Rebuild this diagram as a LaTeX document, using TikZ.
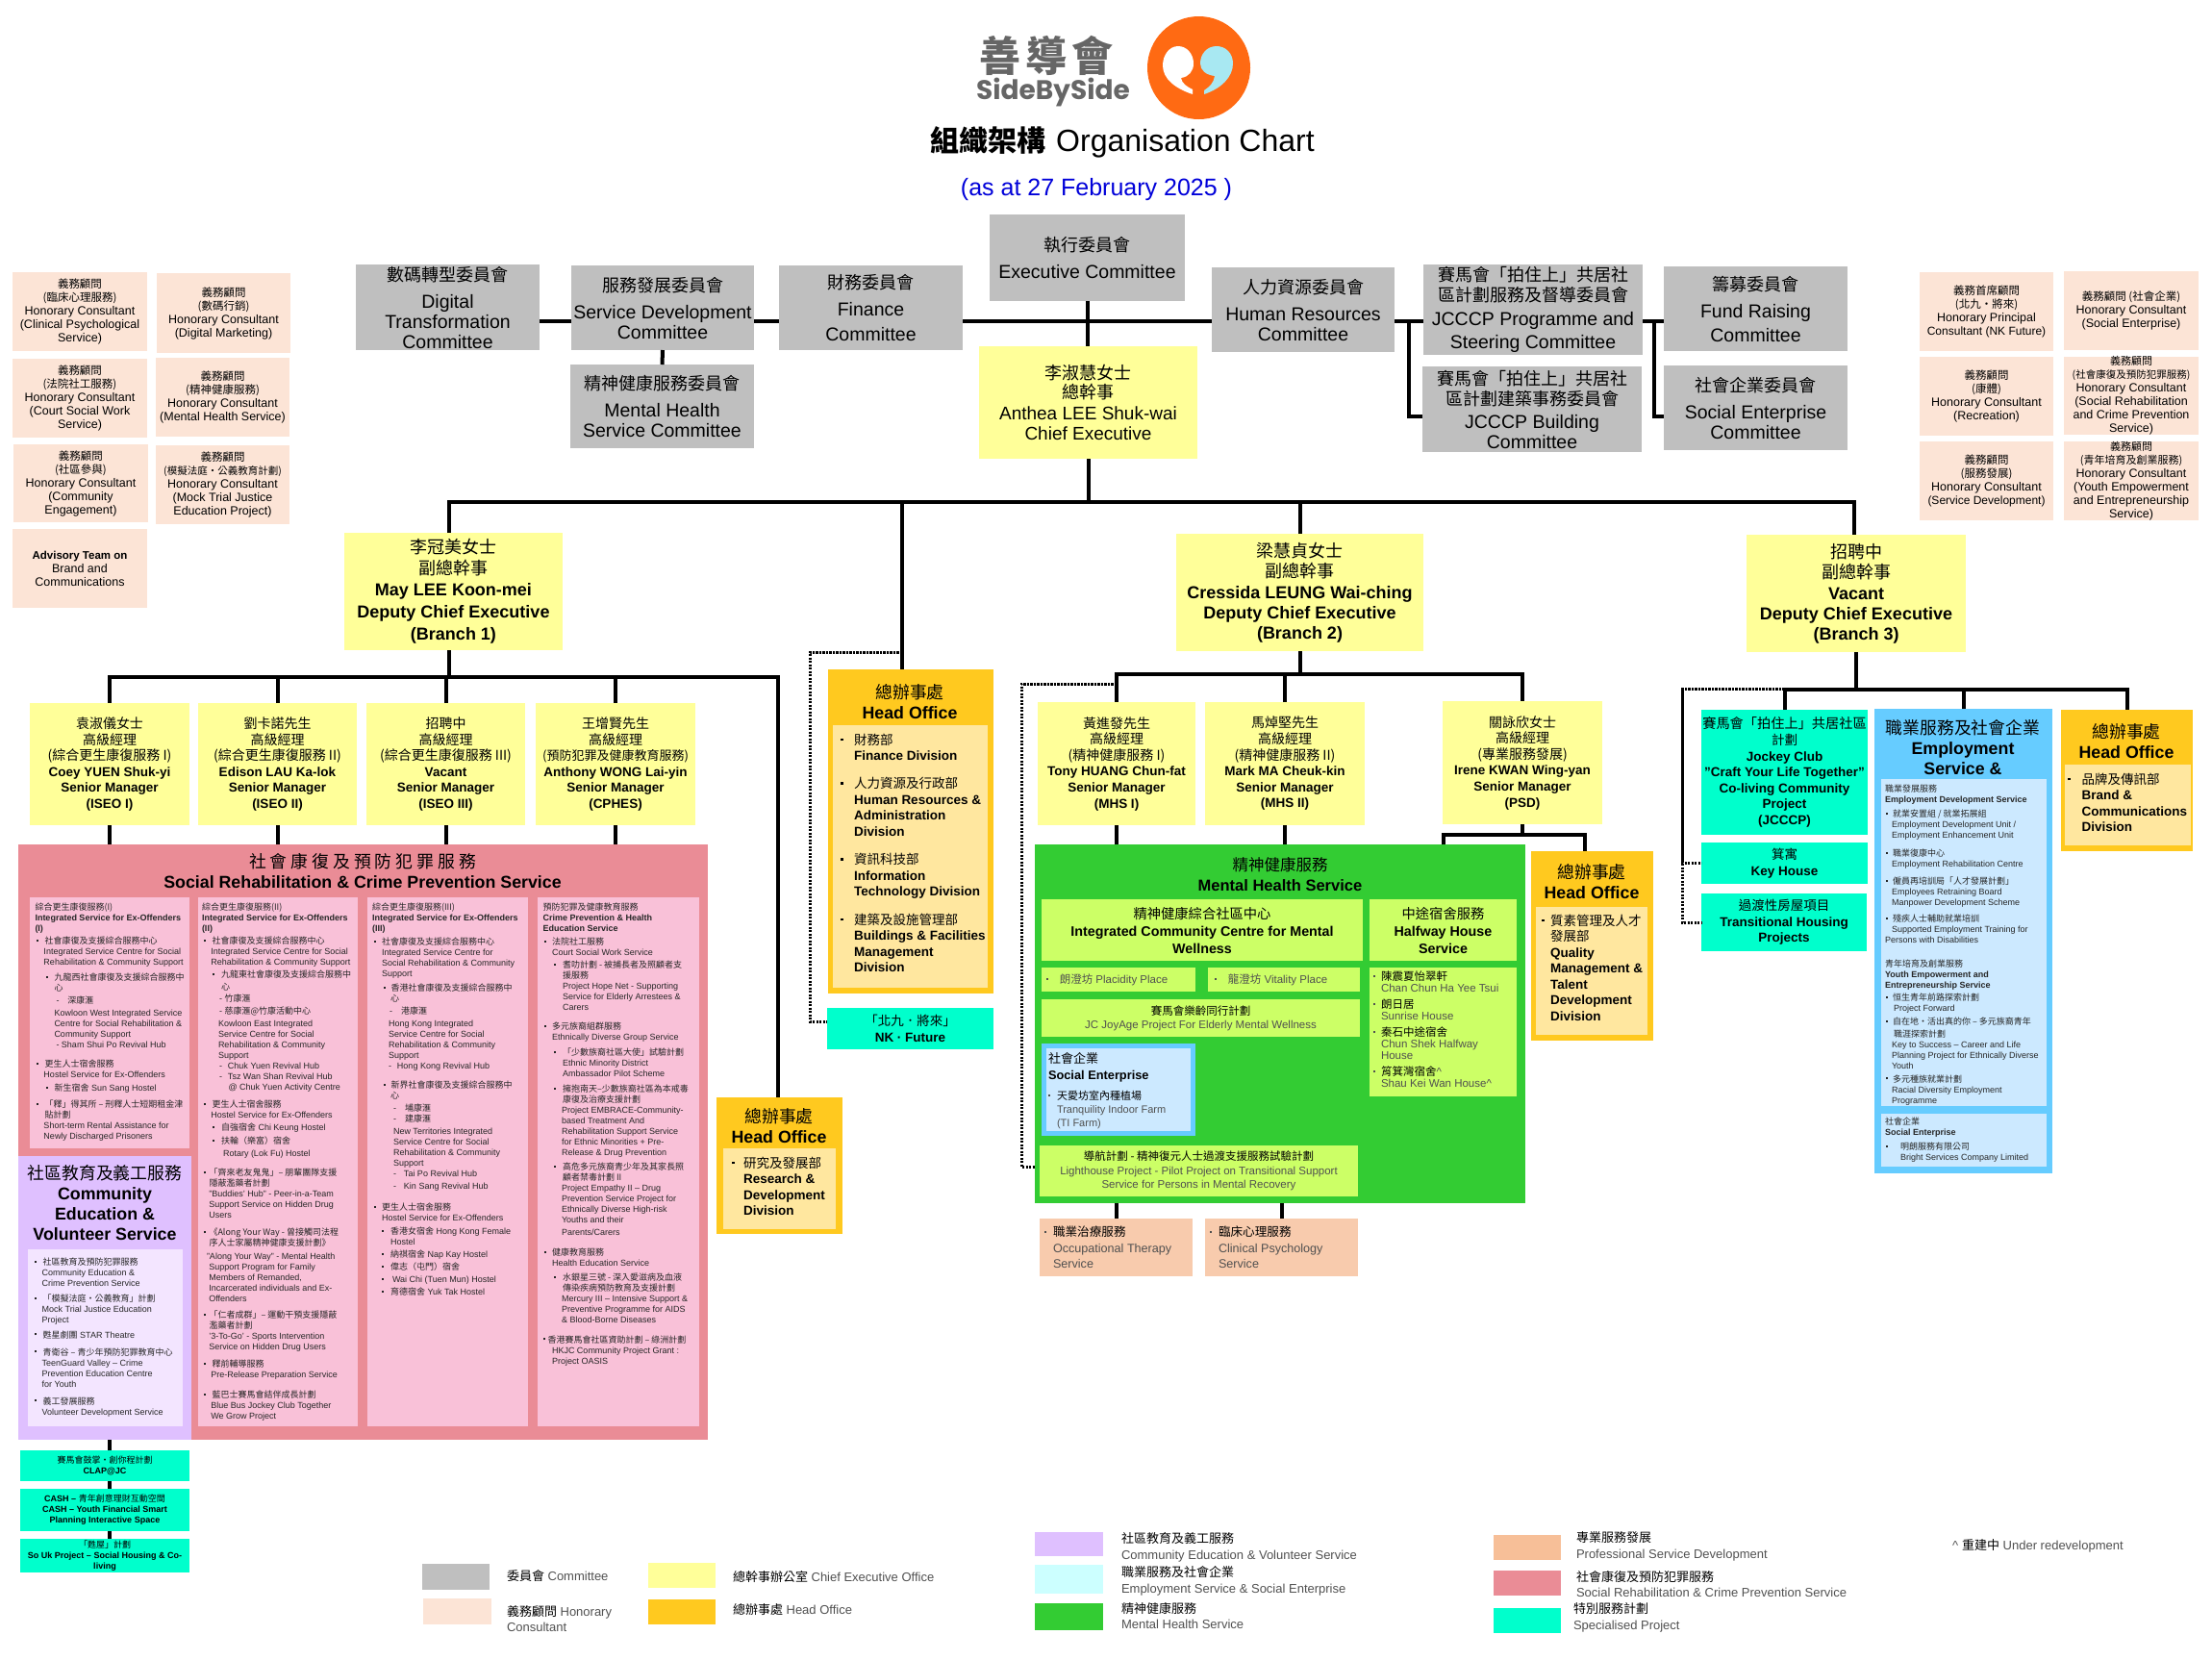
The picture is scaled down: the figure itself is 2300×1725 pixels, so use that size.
\documentclass[tikz,border=0pt]{standalone}
\usepackage{fontspec}
\setmainfont{Liberation Sans}
\newfontfamily\zhfont{Noto Sans CJK TC}
\newfontfamily\logofont{Poppins}
\definecolor{cmtegray}{HTML}{BFBFBF}
\definecolor{honpink}{HTML}{FCE4D6}
\definecolor{ceoyellow}{HTML}{FFFF99}
\definecolor{hoorange}{HTML}{FFC91F}
\definecolor{hopale}{HTML}{FFE79F}
\definecolor{redmain}{HTML}{EA8C96}
\definecolor{redpale}{HTML}{F9C1D8}
\definecolor{purmain}{HTML}{DFC0FF}
\definecolor{purpale}{HTML}{F3E5FF}
\definecolor{greenmain}{HTML}{33CC33}
\definecolor{greenpale}{HTML}{CCFF66}
\definecolor{bluemain}{HTML}{66CCFF}
\definecolor{bluepale}{HTML}{CCE9FF}
\definecolor{mint}{HTML}{00FFCC}
\definecolor{peach}{HTML}{F8CBAD}
\definecolor{legpeach}{HTML}{F7BF98}
\definecolor{legblue}{HTML}{CCFFFF}
\definecolor{logoorange}{HTML}{FF6A13}
\definecolor{logocyan}{HTML}{A8E8F2}
\definecolor{logogray}{HTML}{666666}
\definecolor{greytext}{HTML}{505050}
\newcommand{\zh}[1]{{\zhfont\mdseries #1}}
\newcommand{\fs}[2]{\fontsize{#1}{#2}\selectfont}
\newcommand{\ind}[1]{\hspace*{#1pt}}
\newcommand{\bl}[2]{\hspace*{#1pt}\makebox[#2pt][l]{\rule[2.6pt]{2pt}{2pt}}}
\newcommand{\bx}[7]{\node[#1,minimum width={(#5-#3)*1pt},minimum height={(#6-#4)*1pt}] (#2) at ({(#3+#5)/2},{(#4+#6)/2}) {#7};}
\newcommand{\tx}[5]{\node[#1] (#2) at (#3,#4) {#5};}
\setlength{\lineskiplimit}{-30pt}
\tikzset{
  plain/.style={inner sep=0,outer sep=0,align=center},
  cmtebox/.style={plain,fill=cmtegray,font=\fs{19.5}{21}},
  honbox/.style={plain,fill=honpink,font=\fs{12.5}{14}},
  ceobox/.style={plain,fill=ceoyellow,font=\fs{19}{22}},
  branchbox/.style={plain,fill=ceoyellow,font=\bfseries\fs{18}{22}},
  seniorbox/.style={plain,fill=ceoyellow,font=\bfseries\fs{13.5}{16.6}},
  hobox/.style={plain,fill=hoorange},
  hoin/.style={plain,fill=hopale},
  mintbox/.style={plain,fill=mint,font=\bfseries\fs{13.5}{16.6}},
  minismall/.style={plain,fill=mint,font=\bfseries\fs{9}{11}},
  greenin/.style={plain,fill=greenpale,text=greytext,font=\fs{11.5}{12.4}},
  peachbox/.style={plain,fill=peach},
  ptxt/.style={inner sep=0,outer sep=0,anchor=north west,align=left,font=\fs{9}{11},text=black!85},
  hotxt/.style={ptxt,font=\bfseries\fs{13.5}{16.5},text=black},
  title/.style={inner sep=0,outer sep=0,align=center,font=\bfseries\fs{17.8}{21}},
  legtxt/.style={inner sep=0,outer sep=0,anchor=west,align=left,font=\fs{13}{16.5},text=greytext},
  bus/.style={line width=4pt,black},
  dotline/.style={line width=3pt,black,dash pattern=on 2.2pt off 1.3pt}
}
\begin{document}
\begin{tikzpicture}[x=1pt,y=-1pt]
\useasboundingbox (0,0) rectangle (2300,1725);

\fill[logoorange] (1246.5,70.5) circle (53.5);
\fill[white] (1240,98) .. controls (1222,92) and (1209,82) .. (1209,68) .. controls (1209,57) and (1216,48) .. (1225,48) .. controls (1234,48) and (1241,56) .. (1241,66) .. controls (1241,74) and (1236,80) .. (1228,81) .. controls (1229,87) and (1234,90) .. (1240,93) -- cycle;
\fill[logocyan] (1252,98) .. controls (1270,92) and (1282,80) .. (1282,66) .. controls (1282,55) and (1274,48) .. (1265,48) .. controls (1255,48) and (1248,56) .. (1248,66) .. controls (1248,73) and (1254,78) .. (1263,79) .. controls (1262,86) and (1258,90) .. (1252,94) -- cycle;
\node[inner sep=0,text=logogray,font=\fs{43}{46}\zhfont\bfseries] (logozh) at (1088,58) {善\hspace{5pt}導\hspace{5pt}會};
\node[inner sep=0,text=logogray,font=\bfseries\fs{28}{30}\logofont] (logoen) at (1095,96) {SideBySide};
\node[inner sep=0,font=\fs{32}{36}] (maintitle) at (1167,148) {{\zhfont\bfseries\fontsize{30}{36}\selectfont 組織架構}\hspace{11pt}Organisation Chart};
\node[inner sep=0,text=blue!85!black,font=\fs{25}{28}] (asat) at (1140,197.5) {(as at 27 February 2025 )};

\bx{honbox}{honA}{13}{283}{153}{365}{\zh{\fs{11.5}{14}義務顧問}\\\zh{\fs{11.5}{14}(臨床心理服務)}\\Honorary Consultant\\(Clinical Psychological\\Service)}
\bx{honbox}{honB}{163}{284}{302}{367}{\zh{\fs{11.5}{14}義務顧問}\\\zh{\fs{11.5}{14}(數碼行銷)}\\Honorary Consultant\\(Digital Marketing)}
\bx{honbox}{honC}{13}{373}{153}{455}{\zh{\fs{11.5}{14}義務顧問}\\\zh{\fs{11.5}{14}(法院社工服務)}\\Honorary Consultant\\(Court Social Work\\Service)}
\bx{honbox}{honD}{162}{372}{301}{454}{\zh{\fs{11.5}{14}義務顧問}\\\zh{\fs{11.5}{14}(精神健康服務)}\\Honorary Consultant\\(Mental Health Service)}
\bx{honbox}{honE}{14}{462}{154}{543}{\zh{\fs{11.5}{14}義務顧問}\\\zh{\fs{11.5}{14}(社區參與)}\\Honorary Consultant\\(Community\\Engagement)}
\bx{honbox}{honF}{162}{463}{301}{545}{\zh{\fs{11.5}{14}義務顧問}\\\zh{\fs{10.5}{14}(模擬法庭・公義教育計劃)}\\Honorary Consultant\\(Mock Trial Justice\\Education Project)}
\bx{honbox}{honG}{13}{550}{153}{632}{\bfseries\fs{11.5}{13.5}Advisory Team on\\Brand and\\Communications}

\bx{honbox}{honH}{1996}{283}{2135}{365}{\zh{\fs{11.5}{14}義務首席顧問}\\\zh{\fs{11.5}{14}(北九・將來)}\\Honorary Principal\\\fs{12}{14}Consultant (NK Future)}
\bx{honbox}{honI}{2146}{282}{2286}{364}{\zh{\fs{11.5}{14}義務顧問 (社會企業)}\\Honorary Consultant\\(Social Enterprise)}
\bx{honbox}{honJ}{1996}{371}{2135}{453}{\zh{\fs{11.5}{14}義務顧問}\\\zh{\fs{11.5}{14}(康體)}\\Honorary Consultant\\(Recreation)}
\bx{honbox}{honK}{2146}{371}{2286}{452}{\zh{\fs{11}{13.4}義務顧問}\\\zh{\fs{10.5}{13.4}(社會康復及預防犯罪服務)}\\\fs{12.5}{13.4}Honorary Consultant\\\fs{12.5}{13.4}(Social Rehabilitation\\\fs{12.5}{13.4}and Crime Prevention\\\fs{12.5}{13.4}Service)}
\bx{honbox}{honL}{1996}{459}{2135}{541}{\zh{\fs{11.5}{14}義務顧問}\\\zh{\fs{11.5}{14}(服務發展)}\\Honorary Consultant\\\fs{12}{14}(Service Development)}
\bx{honbox}{honM}{2146}{459}{2286}{541}{\zh{\fs{11}{13.4}義務顧問}\\\zh{\fs{11}{13.4}(青年培育及創業服務)}\\\fs{12.5}{13.4}Honorary Consultant\\\fs{12.5}{13.4}(Youth Empowerment\\\fs{12.5}{13.4}and Entrepreneurship\\\fs{12.5}{13.4}Service)}

\bx{cmtebox}{digital}{370}{275}{561}{364}{\zh{\fs{18}{21}數碼轉型委員會}\\[7pt]Digital\\Transformation\\Committee}
\bx{cmtebox}{service}{594}{276}{784}{364}{\zh{\fs{18}{21}服務發展委員會}\\[7pt]Service Development\\Committee}
\bx{cmtebox}{finance}{810}{276}{1001}{364}{\zh{\fs{18}{21}財務委員會}\\[7pt]Finance\\[5pt]Committee}
\bx{cmtebox}{mental}{593}{379}{784}{466}{\zh{\fs{18}{21}精神健康服務委員會}\\[7pt]Mental Health\\Service Committee}
\bx{cmtebox}{exec}{1029}{223}{1232}{313}{\zh{\fs{18}{21}執行委員會}\\[7pt]Executive Committee}
\bx{cmtebox}{hres}{1260}{278}{1450}{366}{\zh{\fs{18}{21}人力資源委員會}\\[7pt]Human Resources\\Committee}
\bx{cmtebox}{jprog}{1480}{275}{1708}{369}{\zh{\fs{18}{21.5}賽馬會「拍住上」共居社}\\\zh{\fs{18}{21.5}區計劃服務及督導委員會}\\[4pt]JCCCP Programme and\\[3pt]Steering Committee}
\bx{cmtebox}{jbuild}{1479}{381}{1707}{470}{\zh{\fs{18}{21.5}賽馬會「拍住上」共居社}\\\zh{\fs{18}{21.5}區計劃建築事務委員會}\\[3pt]JCCCP Building\\Committee}
\bx{cmtebox}{fund}{1730}{277}{1921}{365}{\zh{\fs{18}{21}籌募委員會}\\[7pt]Fund Raising\\[4pt]Committee}
\bx{cmtebox}{socent}{1730}{380}{1921}{468}{\zh{\fs{18}{21}社會企業委員會}\\[7pt]Social Enterprise\\Committee}

\bx{ceobox}{ce}{1018}{360}{1245}{477}{\zh{\fs{18}{22}李淑慧女士}\\[-2pt]\zh{\fs{18}{20}總幹事}\\Anthea LEE Shuk-wai\\[-1.5pt]Chief Executive}
\bx{branchbox}{branchA}{358}{554}{585}{676}{\zh{\fs{18}{22}李冠美女士}\\\zh{\fs{18}{22}副總幹事}\\May LEE Koon-mei\\[1pt]Deputy Chief Executive\\[1pt](Branch 1)}
\bx{branchbox}{branchB}{1223}{555}{1480}{677}{\zh{\fs{18}{20}梁慧貞女士}\\[-1pt]\zh{\fs{18}{20}副總幹事}\\Cressida LEUNG Wai-ching\\[-1pt]Deputy Chief Executive\\[-1pt](Branch 2)}
\bx{branchbox}{branchC}{1816}{556}{2044}{678}{\zh{\fs{18}{20}招聘中}\\[-1pt]\zh{\fs{18}{20}副總幹事}\\Vacant\\[-1pt]Deputy Chief Executive\\[-1pt](Branch 3)}

\bx{seniorbox}{iseoA}{31}{731}{197}{858}{\zh{\fs{14}{16.6}袁淑儀女士}\\\zh{\fs{14}{16.6}高級經理}\\\zh{\fs{14}{16.6}(綜合更生康復服務 I)}\\Coey YUEN Shuk-yi\\Senior Manager\\(ISEO I)}
\bx{seniorbox}{iseoB}{206}{731}{371}{858}{\zh{\fs{14}{16.6}劉卡諾先生}\\\zh{\fs{14}{16.6}高級經理}\\\zh{\fs{14}{16.6}(綜合更生康復服務 II)}\\Edison LAU Ka-lok\\Senior Manager\\(ISEO II)}
\bx{seniorbox}{iseoC}{381}{731}{546}{858}{\zh{\fs{14}{16.6}招聘中}\\\zh{\fs{14}{16.6}高級經理}\\\zh{\fs{14}{16.6}(綜合更生康復服務 III)}\\Vacant\\Senior Manager\\(ISEO III)}
\bx{seniorbox}{cphes}{557}{731}{723}{858}{\zh{\fs{14}{16.6}王增賢先生}\\\zh{\fs{14}{16.6}高級經理}\\\zh{\fs{13}{16.6}(預防犯罪及健康教育服務)}\\Anthony WONG Lai-yin\\Senior Manager\\(CPHES)}
\bx{seniorbox}{mhsA}{1079}{730}{1243}{858}{\zh{\fs{14}{16.6}黃進發先生}\\\zh{\fs{14}{16.6}高級經理}\\\zh{\fs{14}{16.6}(精神健康服務 I)}\\Tony HUANG Chun-fat\\Senior Manager\\(MHS I)}
\bx{seniorbox}{mhsB}{1253}{730}{1419}{858}{\zh{\fs{14}{16.6}馬焯堅先生}\\\zh{\fs{14}{16.6}高級經理}\\\zh{\fs{14}{16.6}(精神健康服務 II)}\\Mark MA Cheuk-kin\\Senior Manager\\(MHS II)}
\bx{seniorbox}{psd}{1500}{729}{1666}{857}{\zh{\fs{14}{16.6}關詠欣女士}\\\zh{\fs{14}{16.6}高級經理}\\\zh{\fs{14}{16.6}(專業服務發展)}\\Irene KWAN Wing-yan\\Senior Manager\\(PSD)}

\bx{plain,fill=redmain}{red}{19}{878}{736}{1497}{}
\tx{title}{redtitle}{377}{906}{\zh{社\ 會\ 康\ 復\ 及\ 預\ 防\ 犯\ 罪\ 服\ 務}\\Social Rehabilitation \& Crime Prevention Service}
\bx{plain,fill=redpale}{redA}{31}{933}{197}{1194}{}
\bx{plain,fill=redpale}{redB}{206}{933}{372}{1483}{}
\bx{plain,fill=redpale}{redC}{382}{933}{549}{1483}{}
\bx{plain,fill=redpale}{redD}{559}{933}{727}{1483}{}
\tx{ptxt}{redAtxt}{36.5}{939}{\zh{綜合更生康復服務(I)}\\\textbf{Integrated Service for Ex-Offenders}\\\textbf{(I)}\\[2.3pt]
\bl{1.5}{8.5}\zh{社會康復及支援綜合服務中心}\\\ind{9}Integrated Service Centre for Social\\\ind{9}Rehabilitation \& Community Support\\[4.7pt]
\bl{11}{9}\zh{九龍西社會康復及支援綜合服務中}\\\ind{20}\zh{心}\\[2.3pt]\ind{22}-\hspace{9pt}\zh{深康滙}\\[2pt]\ind{20}Kowloon West Integrated Service\\\ind{20}Centre for Social Rehabilitation \&\\\ind{20}Community Support\\\ind{22}- Sham Shui Po Revival Hub\\[8.7pt]
\bl{1.5}{8.5}\zh{更生人士宿舍服務}\\\ind{9}Hostel Service for Ex-Offenders\\[2.7pt]\bl{11}{9}\zh{新生宿舍} Sun Sang Hostel\\[6.3pt]
\bl{1.5}{8.5}\zh{「釋」得其所 – 刑釋人士短期租金津}\\\ind{10}\zh{貼計劃}\\\ind{9}Short-term Rental Assistance for\\\ind{9}Newly Discharged Prisoners}
\tx{ptxt}{redBtxt}{210}{939}{\zh{綜合更生康復服務(II)}\\\textbf{Integrated Service for Ex-Offenders}\\\textbf{(II)}\\[2.3pt]
\bl{1.5}{9}\zh{社會康復及支援綜合服務中心}\\\ind{9.3}Integrated Service Centre for Social\\\ind{9.3}Rehabilitation \& Community Support\\[2pt]
\bl{11}{9}\zh{九龍東社會康復及支援綜合服務中}\\[1.5pt]\ind{20}\zh{心}\\[1.5pt]\ind{18}- \zh{竹康滙}\\[2pt]\ind{18}- \zh{慈康滙@竹康活動中心}\\[2pt]\ind{17}Kowloon East Integrated\\\ind{17}Service Centre for Social\\\ind{17}Rehabilitation \& Community\\\ind{17}Support\\\ind{18}-\hspace{6pt}Chuk Yuen Revival Hub\\\ind{18}-\hspace{6pt}Tsz Wan Shan Revival Hub\\\ind{27.6}@ Chuk Yuen Activity Centre\\[7pt]
\bl{1.5}{9}\zh{更生人士宿舍服務}\\\ind{9.3}Hostel Service for Ex-Offenders\\[2pt]\bl{11}{9}\zh{自強宿舍} Chi Keung Hostel\\[2.3pt]\bl{11}{9}\zh{扶輪（樂富）宿舍}\\[2pt]\ind{22}Rotary (Lok Fu) Hostel\\[9.7pt]
\bl{1.5}{6}\zh{「齊來老友鬼鬼」– 朋輩團隊支援}\\\ind{7.5}\zh{隱蔽濫藥者計劃}\\\ind{7.3}"Buddies' Hub" - Peer-in-a-Team\\\ind{7.3}Support Service on Hidden Drug\\\ind{7.3}Users\\[7pt]
\bl{1.5}{6}\zh{《Along Your Way - 曾接觸司法程}\\\ind{7.5}\zh{序人士家屬精神健康支援計劃》}\\[2.3pt]\ind{5}"Along Your Way" - Mental Health\\\ind{7.3}Support Program for Family\\\ind{7.3}Members of Remanded,\\\ind{7.3}Incarcerated individuals and Ex-\\\ind{7.3}Offenders\\[6.7pt]
\bl{1.5}{6}\zh{「仁者成群」– 運動干預支援隱蔽}\\\ind{7.5}\zh{濫藥者計劃}\\\ind{7.3}'3-To-Go' - Sports Intervention\\\ind{7.3}Service on Hidden Drug Users\\[7pt]
\bl{1.5}{9}\zh{釋前輔導服務}\\\ind{9.3}Pre-Release Preparation Service\\[9.3pt]
\bl{1.5}{9}\zh{藍巴士賽馬會結伴成長計劃}\\\ind{9.3}Blue Bus Jockey Club Together\\\ind{9.3}We Grow Project}
\tx{ptxt}{redCtxt}{387}{939}{\zh{綜合更生康復服務(III)}\\\textbf{Integrated Service for Ex-Offenders}\\\textbf{(III)}\\[2.9pt]
\bl{1.5}{8.5}\zh{社會康復及支援綜合服務中心}\\\ind{10}Integrated Service Centre for\\\ind{10}Social Rehabilitation \& Community\\\ind{10}Support\\[4.1pt]
\bl{11.6}{8}\zh{香港社會康復及支援綜合服務中}\\\ind{19}\zh{心}\\[2pt]\ind{18}-\hspace{9pt}\zh{港康滙}\\[2pt]\ind{17}Hong Kong Integrated\\\ind{17}Service Centre for Social\\\ind{17}Rehabilitation \& Community\\\ind{17}Support\\\ind{17}-\hspace{6pt}Hong Kong Revival Hub\\[9pt]
\bl{11.6}{8}\zh{新界社會康復及支援綜合服務中}\\\ind{19}\zh{心}\\[1.6pt]\ind{22}-\hspace{9pt}\zh{埔康滙}\\\ind{22}-\hspace{9pt}\zh{建康滙}\\[2.5pt]\ind{22}New Territories Integrated\\\ind{22}Service Centre for Social\\\ind{22}Rehabilitation \& Community\\\ind{22}Support\\\ind{22}-\hspace{8pt}Tai Po Revival Hub\\[2pt]\ind{22}-\hspace{8pt}Kin Sang Revival Hub\\[10.6pt]
\bl{1.5}{8.5}\zh{更生人士宿舍服務}\\\ind{10}Hostel Service for Ex-Offenders\\[2.9pt]\bl{10}{9}\zh{香港女宿舍} Hong Kong Female\\\ind{19}Hostel\\[2pt]\bl{10}{9}\zh{納祺宿舍} Nap Kay Hostel\\[2pt]\bl{10}{9}\zh{偉志（屯門）宿舍}\\[2pt]\bl{10}{11}Wai Chi (Tuen Mun) Hostel\\[2pt]\bl{10}{9}\zh{育德宿舍} Yuk Tak Hostel}
\tx{ptxt}{redDtxt}{564.5}{939}{\zh{預防犯罪及健康教育服務}\\\textbf{Crime Prevention \& Health}\\\textbf{Education Service}\\[2.9pt]
\bl{1.5}{8}\zh{法院社工服務}\\\ind{9.5}Court Social Work Service\\[2pt]
\bl{11}{9.5}\zh{耆叻計劃 - 被捕長者及照顧者支}\\\ind{20.5}\zh{援服務}\\\ind{20.5}Project Hope Net - Supporting\\\ind{20.5}Service for Elderly Arrestees \&\\\ind{20.5}Carers\\[9.4pt]
\bl{1.5}{8}\zh{多元族裔組群服務}\\\ind{9.5}Ethnically Diverse Group Service\\[5pt]
\bl{11}{9.5}\zh{「少數族裔社區大使」試驗計劃}\\\ind{20.5}Ethnic Minority District\\\ind{20.5}Ambassador Pilot Scheme\\[4.5pt]
\bl{11}{9.5}\zh{擁抱南天–少數族裔社區為本戒毒}\\\ind{20.5}\zh{康復及治療支援計劃}\\\ind{19.5}Project EMBRACE-Community-\\\ind{19.5}based Treatment And\\\ind{19.5}Rehabilitation Support Service\\\ind{19.5}for Ethnic Minorities + Pre-\\\ind{19.5}Release \& Drug Prevention\\[3.7pt]
\bl{11}{9.5}\zh{高危多元族裔青少年及其家長照}\\\ind{20.5}\zh{顧者禁毒計劃 II}\\\ind{19.5}Project Empathy II – Drug\\\ind{19.5}Prevention Service Project for\\\ind{19.5}Ethnically Diverse High-risk\\\ind{19.5}Youths and their\\[2pt]\ind{19.5}Parents/Carers\\[10pt]
\bl{1.5}{8}\zh{健康教育服務}\\\ind{9.5}Health Education Service\\[4.5pt]
\bl{11}{9.5}\zh{水銀星三號 - 深入愛滋病及血液}\\\ind{20.5}\zh{傳染疾病預防教育及支援計劃}\\\ind{19.5}Mercury III – Intensive Support \&\\\ind{19.5}Preventive Programme for AIDS\\\ind{19.5}\& Blood-Borne Diseases\\[9.4pt]
\bl{0}{5}\zh{香港賽馬會社區資助計劃 – 綠洲計劃}\\\ind{9.5}HKJC Community Project Grant :\\\ind{9.5}Project OASIS}

\bx{plain,fill=purmain}{community}{19}{1202}{199}{1497}{}
\tx{title}{comtitle}{109}{1250.5}{\zh{社區教育及義工服務}\\Community\\Education \&\\Volunteer Service}
\bx{plain,fill=purpale}{cominner}{29}{1299}{190}{1483}{}
\tx{ptxt}{comtxt}{35}{1308}{\bl{0.7}{9}\zh{社區教育及預防犯罪服務}\\\ind{8.7}Community Education \&\\\ind{8.7}Crime Prevention Service\\[4.7pt]
\bl{0.7}{9}\zh{「模擬法庭・公義教育」計劃}\\\ind{8.7}Mock Trial Justice Education\\\ind{8.7}Project\\[4.7pt]
\bl{0.7}{9}\zh{甦星劇團} STAR Theatre\\[7pt]
\bl{0.7}{9}\zh{青衛谷 – 青少年預防犯罪教育中心}\\\ind{8.7}TeenGuard Valley – Crime\\\ind{8.7}Prevention Education Centre\\\ind{8.7}for Youth\\[7pt]
\bl{0.7}{9}\zh{義工發展服務}\\\ind{8.7}Volunteer Development Service}

\bx{minismall}{clap}{21}{1508}{197}{1540}{\zh{賽馬會鼓掌・創你程計劃}\\CLAP@JC}
\bx{minismall}{cash}{21}{1548}{197}{1592}{CASH – \zh{青年創意理財互動空間}\\CASH – Youth Financial Smart\\Planning Interactive Space}
\bx{minismall}{souk}{21}{1600}{197}{1635}{\zh{「甦屋」計劃}\\So Uk Project – Social Housing \& Co-\\living}

\bx{hobox}{hoA}{861}{696}{1033}{1033}{}
\tx{title}{hoAtitle}{946}{730}{\zh{總辦事處}\\Head Office}
\bx{hoin}{hoAin}{866}{754}{1027}{1027}{}
\tx{hotxt}{hoAtxt}{874}{763}{\hspace*{0pt}\makebox[14pt][l]{\rule[4pt]{2.5pt}{2.5pt}}\zh{財務部}\\\ind{14}Finance Division\\[12.5pt]
\makebox[14pt][l]{\rule[4pt]{2.5pt}{2.5pt}}\zh{人力資源及行政部}\\\ind{14}Human Resources \&\\\ind{14}Administration\\\ind{14}Division\\[13pt]
\makebox[14pt][l]{\rule[4pt]{2.5pt}{2.5pt}}\zh{資訊科技部}\\\ind{14}Information\\\ind{14}Technology Division\\[13pt]
\makebox[14pt][l]{\rule[4pt]{2.5pt}{2.5pt}}\zh{建築及設施管理部}\\\ind{14}Buildings \& Facilities\\\ind{14}Management\\\ind{14}Division}
\bx{plain,fill=mint,font=\bfseries\fs{13.5}{16.5}}{nk}{860}{1048}{1033}{1091}{\zh{「北九．將來」}\\NK · Future}

\bx{hobox}{rnd}{745}{1141}{876}{1283}{}
\tx{title}{rndtitle}{810}{1171}{\zh{總辦事處}\\Head Office}
\bx{hoin}{rndin}{752}{1194}{869}{1278}{}
\tx{hotxt}{rndtxt}{761}{1203}{\makebox[12pt][l]{\rule[4pt]{2.5pt}{2.5pt}}\zh{研究及發展部}\\\ind{12}Research \&\\\ind{12}Development\\\ind{12}Division}

\bx{plain,fill=greenmain}{mhs}{1076}{878}{1586}{1251}{}
\tx{title,font=\bfseries\fs{16.5}{21}}{mhstitle}{1331}{909}{\zh{精神健康服務}\\Mental Health Service}
\bx{plain,fill=greenpale,font=\bfseries\fs{14.3}{18}}{icc}{1083}{935}{1417}{999}{\zh{精神健康綜合社區中心}\\Integrated Community Centre for Mental\\Wellness}
\bx{plain,fill=greenpale,font=\bfseries\fs{14.3}{18}}{hhead}{1424}{935}{1577}{999}{\zh{中途宿舍服務}\\Halfway House\\Service}
\bx{greenin}{placid}{1083}{1006}{1243}{1031}{\hspace*{-24pt}\makebox[14pt][l]{\rule[3.5pt]{2pt}{2pt}}\zh{朗澄坊} Placidity Place}
\bx{greenin}{vital}{1256}{1006}{1414}{1031}{\hspace*{-27pt}\makebox[14pt][l]{\rule[3.5pt]{2pt}{2pt}}\zh{龍澄坊} Vitality Place}
\bx{greenin}{joyage}{1083}{1039}{1414}{1078}{\zh{\textcolor{black}{賽馬會樂齡同行計劃}}\\[2pt]JC JoyAge Project For Elderly Mental Wellness}
\bx{greenin}{hlist}{1424}{1006}{1577}{1140}{}
\tx{ptxt,font=\fs{11.5}{11.8},text=greytext}{hlisttxt}{1428}{1010}{\makebox[8pt][l]{\rule[3.5pt]{2pt}{2pt}}\zh{\textcolor{black}{陳震夏怡翠軒}}\\\ind{8}Chan Chun Ha Yee Tsui\\[5.5pt]
\makebox[8pt][l]{\rule[3.5pt]{2pt}{2pt}}\zh{\textcolor{black}{朗日居}}\\\ind{8}Sunrise House\\[5.5pt]
\makebox[8pt][l]{\rule[3.5pt]{2pt}{2pt}}\zh{\textcolor{black}{秦石中途宿舍}}\\\ind{8}Chun Shek Halfway\\\ind{8}House\\[5.5pt]
\makebox[8pt][l]{\rule[3.5pt]{2pt}{2pt}}\zh{\textcolor{black}{筲箕灣宿舍}}\textasciicircum\\\ind{8}Shau Kei Wan House\textasciicircum}
\bx{plain,fill=bluemain}{seA}{1083}{1085}{1243}{1181}{}
\bx{plain,fill=bluepale}{seAin}{1088}{1090}{1238}{1176}{}
\tx{ptxt,font=\fs{11}{14},text=greytext}{seAtxt}{1090}{1094}{\textcolor{black}{\fs{13}{16}\zh{社會企業}}\\[3pt]\textcolor{black}{\bfseries\fs{12.8}{17}Social Enterprise}\\[7pt]\makebox[9pt][l]{\rule[3.5pt]{2pt}{2pt}}\zh{\textcolor{black}{天愛坊室內種植場}}\\\ind{9}Tranquility Indoor Farm\\\ind{9}(TI Farm)}
\bx{greenin}{light}{1081}{1191}{1412}{1244}{\zh{\textcolor{black}{導航計劃 - 精神復元人士過渡支援服務試驗計劃}}\\[2pt]Lighthouse Project - Pilot Project on Transitional Support\\[2pt]Service for Persons in Mental Recovery}
\bx{peachbox}{occ}{1081}{1267}{1240}{1327}{}
\tx{ptxt,font=\fs{12.6}{16.6},text=greytext}{occtxt}{1086}{1275}{\makebox[9pt][l]{\rule[4pt]{2pt}{2pt}}\zh{\textcolor{black}{職業治療服務}}\\\ind{9}Occupational Therapy\\\ind{9}Service}
\bx{peachbox}{clin}{1253}{1267}{1412}{1327}{}
\tx{ptxt,font=\fs{12.6}{16.6},text=greytext}{clintxt}{1258}{1275}{\makebox[9pt][l]{\rule[4pt]{2pt}{2pt}}\zh{\textcolor{black}{臨床心理服務}}\\\ind{9}Clinical Psychology\\\ind{9}Service}

\bx{hobox}{quality}{1592}{885}{1719}{1082}{}
\tx{title}{qualtitle}{1655}{917}{\zh{總辦事處}\\Head Office}
\bx{hoin}{qualin}{1597}{943}{1713}{1076}{}
\tx{hotxt}{qualtxt}{1603}{951}{\makebox[9pt][l]{\rule[4pt]{2.5pt}{2.5pt}}\zh{質素管理及人才}\\\ind{9}\zh{發展部}\\\ind{9}Quality\\\ind{9}Management \&\\\ind{9}Talent\\\ind{9}Development\\\ind{9}Division}

\bx{mintbox}{jcccp}{1769}{738}{1942}{868}{\zh{\fs{14.2}{17}賽馬會「拍住上」共居社區}\\\zh{計劃}\\Jockey Club\\"Craft Your Life Together"\\Co-living Community\\Project\\(JCCCP)}
\bx{mintbox}{keyh}{1769}{876}{1942}{919}{\zh{箕寓}\\Key House}
\bx{mintbox}{trans}{1769}{929}{1941}{989}{\zh{過渡性房屋項目}\\Transitional Housing\\Projects}

\bx{plain,fill=bluemain}{emp}{1949}{737}{2134}{1220}{}
\tx{title}{emptitle}{2041}{777}{\zh{職業服務及社會企業}\\Employment\\Service \&}
\bx{plain,fill=bluepale}{empA}{1956}{810}{2128}{1150}{}
\bx{plain,fill=bluepale}{empB}{1956}{1158}{2128}{1213}{}
\tx{ptxt}{empAtxt}{1960}{816}{\zh{職業發展服務}\\\textbf{Employment Development Service}\\[4.3pt]
\bl{1}{7}\zh{就業安置組 / 就業拓展組}\\\ind{7}Employment Development Unit /\\\ind{7}Employment Enhancement Unit\\[7.6pt]
\bl{1}{7}\zh{職業復康中心}\\\ind{7}Employment Rehabilitation Centre\\[7pt]
\bl{1}{7}\zh{僱員再培訓局「人才發展計劃」}\\\ind{7}Employees Retraining Board\\\ind{7}Manpower Development Scheme\\[6pt]
\bl{1}{7}\zh{殘疾人士輔助就業培訓}\\\ind{7}Supported Employment Training for\\Persons with Disabilities\\[14pt]
\zh{青年培育及創業服務}\\\textbf{Youth Empowerment and}\\\textbf{Entrepreneurship Service}\\[2.4pt]
\bl{1}{7}\zh{恒生青年前路探索計劃}\\\ind{9}Project Forward\\[2.4pt]
\bl{1}{7}\zh{自在地・活出真的你 – 多元族裔青年}\\[2.4pt]\ind{9}\zh{職涯探索計劃}\\\ind{7}Key to Success – Career and Life\\\ind{7}Planning Project for Ethnically Diverse\\\ind{7}Youth\\[2.4pt]
\bl{1}{7}\zh{多元種族就業計劃}\\\ind{7}Racial Diversity Employment\\\ind{7}Programme}
\tx{ptxt}{empBtxt}{1960}{1162}{\zh{社會企業}\\\textbf{Social Enterprise}\\[3.5pt]\bl{1}{15}\zh{明朗服務有限公司}\\\ind{16}Bright Services Company Limited}

\bx{hobox}{brand}{2143}{738}{2280}{885}{}
\tx{title}{brandtitle}{2211}{771}{\zh{總辦事處}\\Head Office}
\bx{hoin}{brandin}{2147}{795}{2278}{879}{}
\tx{hotxt}{brandtxt}{2150}{804}{\makebox[14.5pt][l]{\rule[4pt]{2.5pt}{2.5pt}}\zh{品牌及傳訊部}\\\ind{14.5}Brand \&\\\ind{14.5}Communications\\\ind{14.5}Division}

\coordinate (cmte) at (0,334);
\coordinate (jb) at (1465,433);
\coordinate (fb) at (1720,433);
\coordinate (busl) at (467,522);
\coordinate (busr) at (1928,522);
\coordinate (busho) at (938,522);
\coordinate (dotA) at (842,678);
\coordinate (dotAb) at (842,1062);
\coordinate (busA) at (467,704);
\coordinate (busAr) at (809,704);
\coordinate (busB) at (0,701);
\coordinate (dotB) at (1062,711);
\coordinate (dotBb) at (1062,1213);
\coordinate (busP) at (1501,868);
\coordinate (busPr) at (1648,868);
\coordinate (busC) at (0,717);
\coordinate (dotC) at (1749,716);

\draw[bus] (digital.east|-cmte) -- (service.west|-cmte);
\draw[bus] (service.east|-cmte) -- (finance.west|-cmte);
\draw[bus] (finance.east|-cmte) -- (hres.west|-cmte);
\draw[bus] (hres.east|-cmte) -- (jprog.west|-cmte);
\draw[bus] (jprog.east|-cmte) -- (fund.west|-cmte);
\draw[bus] (jb|-cmte) |- (jbuild.west|-jb);
\draw[bus] (fb|-cmte) |- (socent.west|-fb);
\draw[bus] (service.south) -- (mental.north);
\draw[bus] (exec.south) -- (exec.south|-ce.north);
\draw[bus] (ce.south) -- (ce.south|-busl);
\draw[bus] (busl|-branchA.north) -- (busl) -- (busr) -- (busr|-branchC.north);
\draw[bus] (branchB.north) -- (branchB.north|-busl);
\draw[bus] (busho) -- (busho|-hoA.north);
\draw[dotline] (busho|-dotA) -- (dotA) -- (dotAb) -- (nk.west|-dotAb);

\draw[bus] (busl|-branchA.south) -- (busA);
\draw[bus] (iseoA.north) |- (busAr) -- (busAr|-rnd.north);
\draw[bus] (iseoB.north) -- (iseoB.north|-busA);
\draw[bus] (iseoC.north) -- (iseoC.north|-busA);
\draw[bus] (cphes.north) -- (cphes.north|-busA);
\draw[bus] (iseoA.south) -- (iseoA.south|-red.north);
\draw[bus] (iseoB.south) -- (iseoB.south|-red.north);
\draw[bus] (iseoC.south) -- (iseoC.south|-red.north);
\draw[bus] (cphes.south) -- (cphes.south|-red.north);
\draw[bus] (iseoA.south|-clap.north) -- (iseoA.south|-community.south);
\draw[bus] (iseoA.south|-clap.south) -- (iseoA.south|-cash.north);
\draw[bus] (iseoA.south|-cash.south) -- (iseoA.south|-souk.north);

\draw[bus] (branchB.south) -- (branchB.south|-busB);
\draw[bus] (mhsA.north) |- (psd.north|-busB) -- (psd.north);
\draw[bus] (mhsB.north) -- (mhsB.north|-busB);
\draw[dotline] (mhsA.north|-dotB) -- (dotB) -- (dotBb) -- (mhs.west|-dotBb);
\draw[bus] (mhsA.south) -- (mhsA.south|-mhs.north);
\draw[bus] (mhsB.south) -- (mhsB.south|-mhs.north);
\draw[bus] (psd.south) -- (psd.south|-busP);
\draw[bus] (busP|-mhs.north) -- (busP) -- (busPr) -- (busPr|-quality.north);
\draw[bus] (occ.north) -- (occ.north|-mhs.south);
\draw[bus] (clin.north) -- (clin.north|-mhs.south);

\draw[bus] (branchC.south) -- (branchC.south|-busC);
\draw[bus] (jcccp.north) |- (brand.north|-busC) -- (brand.north);
\draw[bus] (emp.north) -- (emp.north|-busC);
\draw[dotline] (jcccp.north|-dotC) -- (dotC) |- (keyh.west);
\draw[dotline] (dotC) |- (trans.west);

\bx{plain,fill=cmtegray}{legA}{439}{1626}{509}{1653}{}
\bx{plain,fill=honpink}{legB}{440}{1662}{511}{1689}{}
\bx{plain,fill=ceoyellow}{legC}{674}{1625}{744}{1651}{}
\bx{plain,fill=hoorange}{legD}{674}{1663}{744}{1689}{}
\bx{plain,fill=purmain}{legE}{1076}{1593}{1147}{1618}{}
\bx{plain,fill=legblue}{legF}{1076}{1627}{1147}{1657}{}
\bx{plain,fill=greenmain}{legG}{1076}{1667}{1147}{1695}{}
\bx{plain,fill=legpeach}{legH}{1553}{1596}{1623}{1622}{}
\bx{plain,fill=redmain}{legI}{1553}{1633}{1623}{1659}{}
\bx{plain,fill=mint}{legJ}{1553}{1672}{1623}{1698}{}
\tx{legtxt}{legAtxt}{527}{1639}{\zh{\textcolor{black}{委員會}} Committee}
\tx{legtxt}{legBtxt}{527}{1683}{\zh{\textcolor{black}{義務顧問}} Honorary\\Consultant}
\tx{legtxt}{legCtxt}{762}{1639}{\zh{\textcolor{black}{總幹事辦公室}} Chief Executive Office}
\tx{legtxt}{legDtxt}{762}{1674}{\zh{\textcolor{black}{總辦事處}} Head Office}
\tx{legtxt}{legEtxt}{1166}{1609}{\zh{\textcolor{black}{社區教育及義工服務}}\\Community Education \& Volunteer Service}
\tx{legtxt}{legFtxt}{1166}{1644}{\zh{\textcolor{black}{職業服務及社會企業}}\\Employment Service \& Social Enterprise}
\tx{legtxt}{legGtxt}{1166}{1680}{\zh{\textcolor{black}{精神健康服務}}\\Mental Health Service}
\tx{legtxt}{legHtxt}{1639}{1608}{\zh{\textcolor{black}{專業服務發展}}\\Professional Service Development}
\tx{legtxt}{legItxt}{1639}{1647}{\zh{\textcolor{black}{社會康復及預防犯罪服務}}\\Social Rehabilitation \& Crime Prevention Service}
\tx{legtxt}{legJtxt}{1636}{1682}{\zh{\textcolor{black}{特別服務計劃}}\\Specialised Project}
\tx{legtxt}{legKtxt}{2030}{1607}{\textasciicircum\hspace{4pt}\zh{\textcolor{black}{重建中}} Under redevelopment}
\end{tikzpicture}
\end{document}
